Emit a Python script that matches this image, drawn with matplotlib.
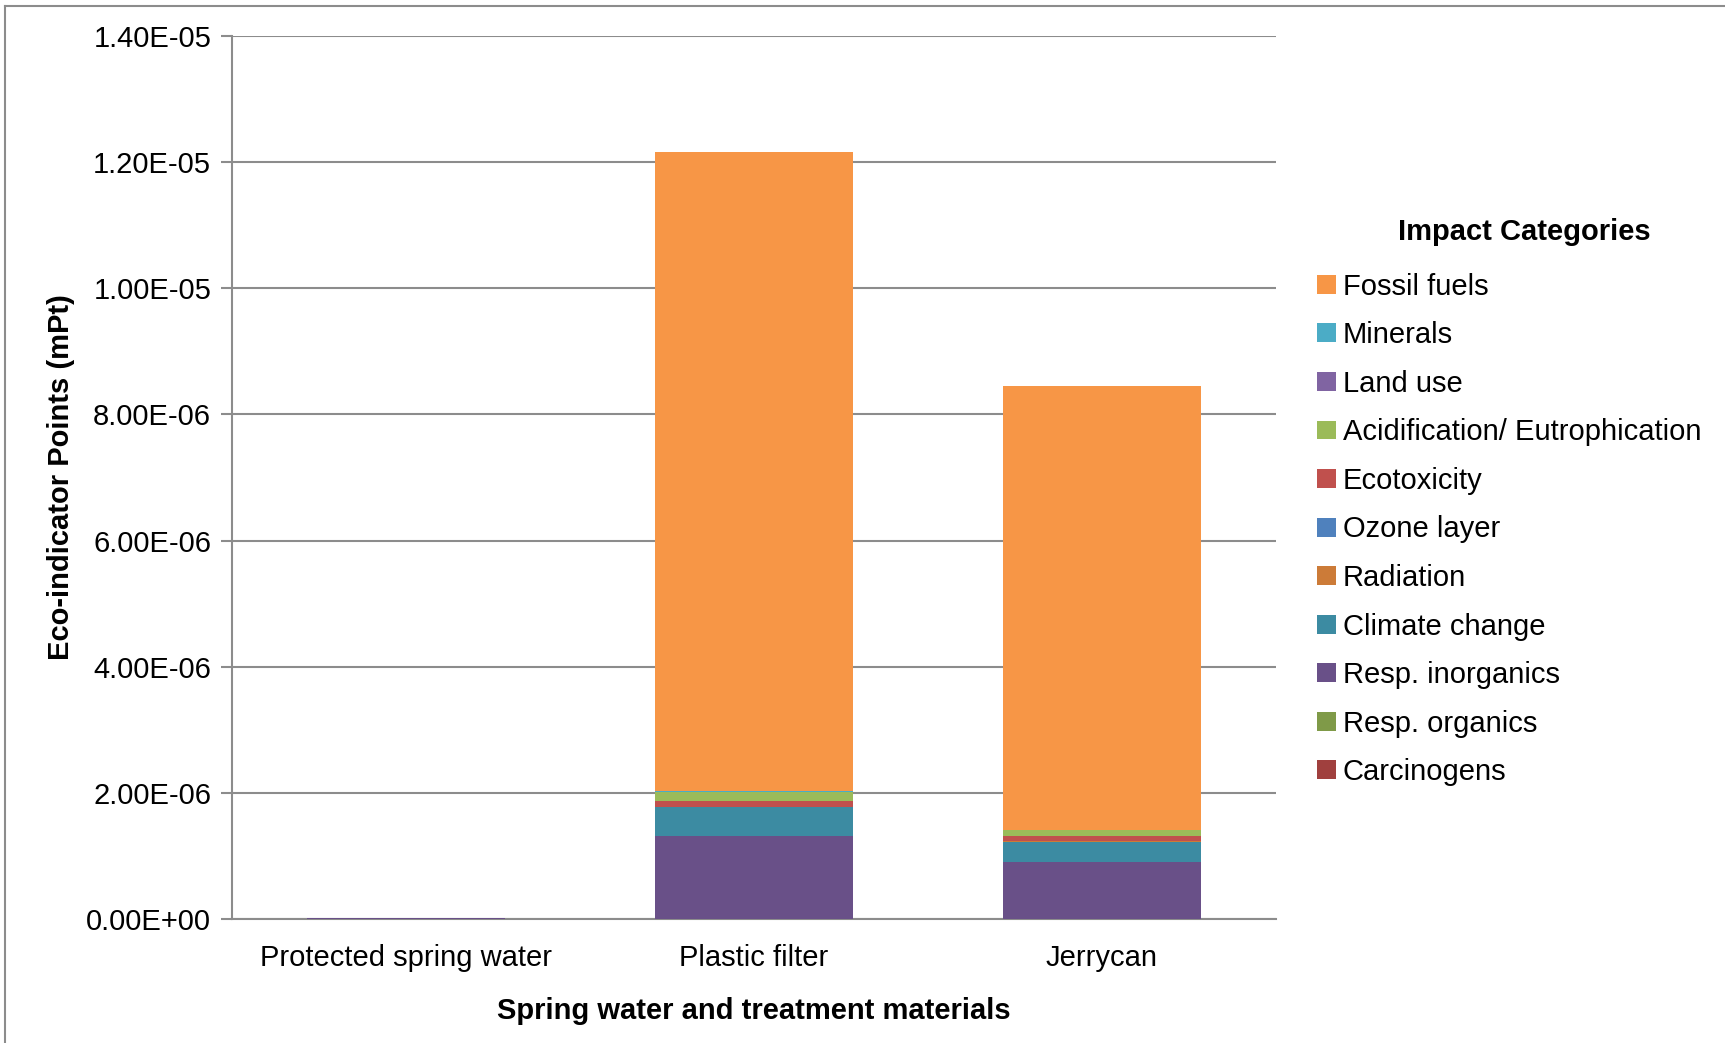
import matplotlib
matplotlib.use("Agg")
import matplotlib.pyplot as plt
import numpy as np
from matplotlib.ticker import FuncFormatter, MultipleLocator
from matplotlib.patches import Patch

plt.rcParams['font.family'] = ['Liberation Sans', 'DejaVu Sans']

categories = ["Protected spring water", "Plastic filter", "Jerrycan"]

# stacking order bottom -> top
series_names = ["Carcinogens", "Resp. organics", "Resp. inorganics", "Climate change",
                "Radiation", "Ozone layer", "Ecotoxicity", "Acidification/ Eutrophication",
                "Land use", "Minerals", "Fossil fuels"]
carcinogens = [0.0, 0.003e-6, 0.002e-6]
resp_organics = [0.0, 0.001e-6, 0.001e-6]
resp_inorganics = [0.015e-6, 1.305e-6, 0.908e-6]
climate_change = [0.002e-6, 0.46e-6, 0.317e-6]
radiation = [0.0, 0.002e-6, 0.002e-6]
ozone_layer = [0.0, 0.001e-6, 0.001e-6]
ecotoxicity = [0.001e-6, 0.10e-6, 0.083e-6]
acidification = [0.001e-6, 0.14e-6, 0.09e-6]
land_use = [0.0, 0.005e-6, 0.004e-6]
minerals = [0.0, 0.01e-6, 0.01e-6]
fossil_fuels = [0.001e-6, 10.13e-6, 7.03e-6]

series_values = [carcinogens, resp_organics, resp_inorganics, climate_change, radiation,
                 ozone_layer, ecotoxicity, acidification, land_use, minerals, fossil_fuels]
series_colors = ["#A0403E", "#7F9A48", "#695088", "#3C8BA2", "#CC7B38", "#4F81BD",
                 "#C0504D", "#9BBB59", "#8064A2", "#4BACC6", "#F79646"]

FS = 21

fig = plt.figure(figsize=(17.25, 10.43), dpi=100)
ax = fig.add_axes([0.1345, 0.1189, 0.6052, 0.8466])

x = np.arange(len(categories))
bottom = np.zeros(len(categories))
handles = []
for name, vals, col in zip(series_names, series_values, series_colors):
    vals = np.array(vals)
    ax.bar(x, vals, bottom=bottom, width=0.57, color=col, edgecolor='none', zorder=3)
    bottom += vals
    handles.append(Patch(facecolor=col, edgecolor='none', label=name))

ax.set_ylim(0, 1.4e-5)
ax.set_xlim(-0.5, 2.5)
ax.yaxis.set_major_locator(MultipleLocator(2e-6))
ax.yaxis.set_major_formatter(FuncFormatter(lambda v, p: f"{v:.2E}"))
ax.yaxis.grid(True, color='#8C8C8C', linewidth=1.5, zorder=0)
ax.set_axisbelow(True)
for s in ['top', 'right']:
    ax.spines[s].set_visible(False)
for s in ['left', 'bottom']:
    ax.spines[s].set_color('#8C8C8C')
    ax.spines[s].set_linewidth(1.5)
ax.tick_params(axis='y', direction='out', length=8, width=1.5, color='#8C8C8C',
               labelsize=FS, pad=7)
ax.tick_params(axis='x', length=0, labelsize=FS, pad=18)
ax.set_xticks(x)
ax.set_xticklabels(categories)
ax.set_xlabel("Spring water and treatment materials", fontsize=FS, fontweight='bold', labelpad=18)
ax.set_ylabel("Eco-indicator Points (mPt)", fontsize=FS, fontweight='bold', labelpad=8)

leg = fig.legend(handles=handles[::-1], loc='upper left', bbox_to_anchor=(0.757, 0.802),
                 frameon=False, fontsize=FS, title="Impact Categories",
                 title_fontproperties={'weight': 'bold', 'size': FS},
                 handlelength=0.62, handleheight=0.62, handletextpad=0.25,
                 labelspacing=0.705, borderaxespad=0)
leg._legend_box.align = "center"
leg._legend_box.sep = 19
# Excel places the title a little right of the box centre
leg.get_title().set_position((15, 0))

# outer chart border
fig.add_artist(plt.Line2D([5/1725, 5/1725], [0, 1 - 6/1043], color='#8C8C8C', lw=1.5,
                          transform=fig.transFigure))
fig.add_artist(plt.Line2D([5/1725, 1], [1 - 6/1043, 1 - 6/1043], color='#8C8C8C', lw=1.5,
                          transform=fig.transFigure))

fig.savefig("out.png", dpi=100)
